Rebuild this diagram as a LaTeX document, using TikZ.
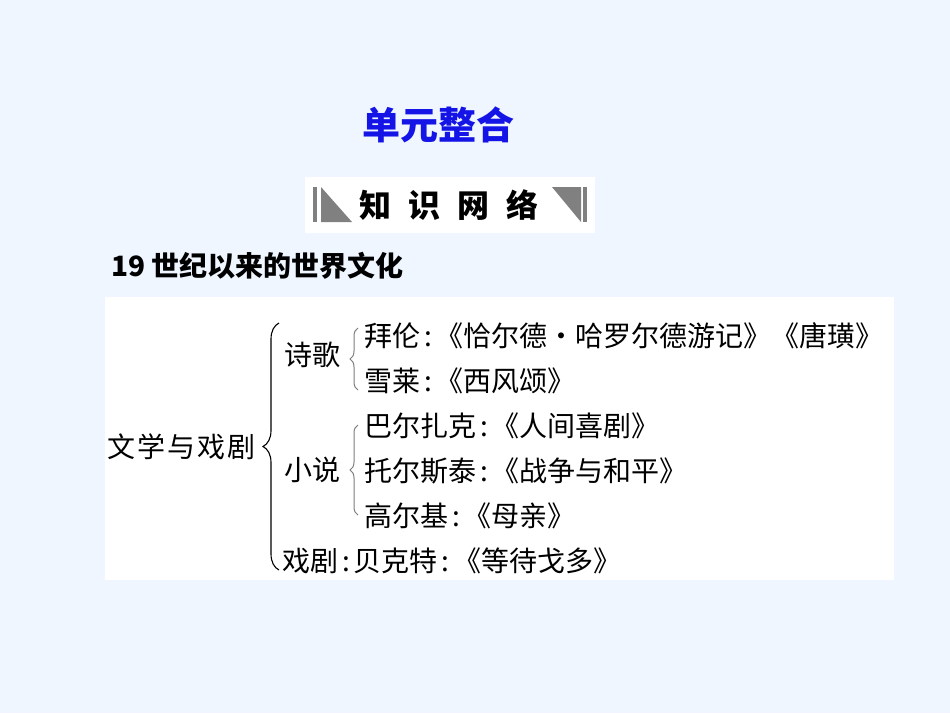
\documentclass[tikz,border=0pt]{standalone}
\usepackage{fontspec}
\setmainfont{Liberation Sans}
\newfontfamily\cjk{Noto Sans CJK SC}
\usetikzlibrary{decorations.pathreplacing,positioning}
\definecolor{bgblue}{RGB}{239,246,255}
\definecolor{titleblue}{RGB}{20,20,230}
\definecolor{markgray}{RGB}{128,128,128}
\definecolor{bracegray}{RGB}{125,125,125}
\newcommand{\cln}{\makebox[0.55em]{:}}
\tikzset{
  item/.style={anchor=west,inner sep=0pt,font=\cjk\fontsize{28}{28}\selectfont},
  bigbrace/.style={decorate,decoration={brace,amplitude=16pt},line width=1.1pt},
  subbrace/.style={decorate,decoration={brace,amplitude=8pt},draw=bracegray,line width=1pt}
}
\begin{document}
\begin{tikzpicture}[x=1pt,y=-1pt]
    \useasboundingbox (0,0) rectangle (950,713);
    \fill[bgblue] (0,0) rectangle (950,713);
    % heading
    \node[font=\cjk\bfseries\fontsize{38}{38}\selectfont,text=titleblue] (title) at (438,125) {单元整合};
    \fill[white] (305,177) rectangle (595,233);
    \fill[markgray] (313,187) rectangle (317,222);
    \fill[markgray] (321,187) -- (321,222) -- (352,222) -- cycle;
    \fill[markgray] (552,187) -- (581,187) -- (581,222) -- cycle;
    \fill[markgray] (583,187) rectangle (587,222);
    \node[font=\cjk\bfseries\fontsize{32}{32}\selectfont] (zsww) at (449,205) {知\hspace{17pt}识\hspace{17pt}网\hspace{17pt}络};
    \node[anchor=west,inner sep=0pt,font=\cjk\bfseries\fontsize{28}{28}\selectfont] (topic) at (111,266) {19 世纪以来的世界文化};
    % the network
    \fill[white] (105,297) rectangle (894,580);
    \node[item,font=\cjk\addfontfeature{LetterSpace=7}\fontsize{28}{28}\selectfont] (wxxj) at (107,447) {文学与戏剧};
    \node[item] (shige) at (284,355) {诗歌};
    \node[item] (xiaoshuo) at (284,470) {小说};
    \node[item] (baiyan) at (364,336) {拜伦\cln《恰尔德·哈罗尔德游记》《唐璜》};
    \node[item] (xuelai) at (364,381) {雪莱\cln《西风颂》};
    \node[item] (baerzk) at (364,426) {巴尔扎克\cln《人间喜剧》};
    \node[item] (tuoes) at (364,471) {托尔斯泰\cln《战争与和平》};
    \node[item] (gaoerji) at (364,516) {高尔基\cln《母亲》};
    \node[item] (xiju) at (282,561) {戏剧\cln 贝克特\cln《等待戈多》};
    % braces
    \coordinate (bigtop) at (279,323);
    \coordinate (bigbot) at (279,570);
    \coordinate (shtop) at (358,328);
    \coordinate (shbot) at (358,390);
    \coordinate (xstop) at (358,425);
    \coordinate (xsbot) at (358,515);
    \draw[bigbrace] (bigbot) -- (bigtop);
    \draw[subbrace] (shbot) -- (shtop);
    \draw[subbrace] (xsbot) -- (xstop);
\end{tikzpicture}
\end{document}
